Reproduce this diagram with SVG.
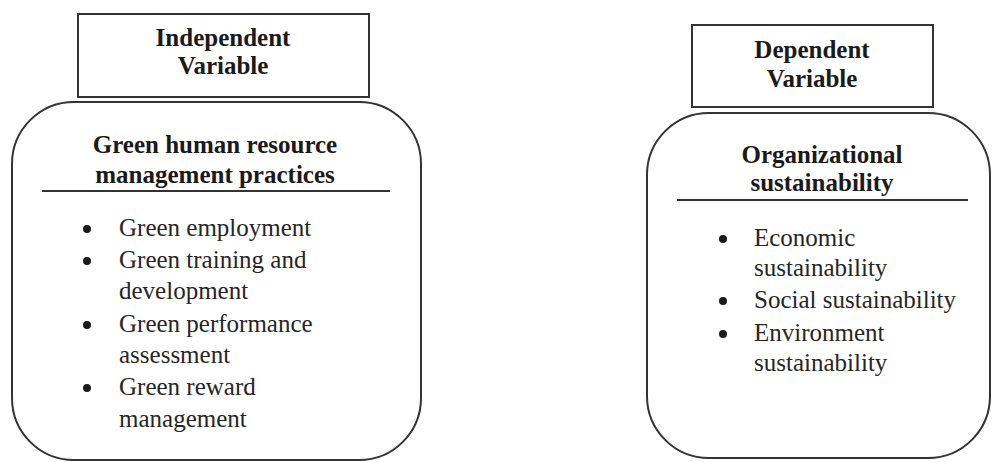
<svg xmlns="http://www.w3.org/2000/svg" width="992" height="462" viewBox="0 0 992 462">
  <style>
    .box { fill: #fff; stroke: #333; stroke-width: 2; }
    .rule { stroke: #333; stroke-width: 2; }
    .head { font-family: 'Liberation Serif', 'DejaVu Serif', serif; font-size: 25px; font-weight: bold; fill: #1a1a1a; text-anchor: middle; }
    .item { font-family: 'Liberation Serif', 'DejaVu Serif', serif; font-size: 25px; fill: #262626; }
    .dot { fill: #1a1a1a; }
  </style>
  <rect width="992" height="462" fill="#fff"/>

  <!-- Independent variable label -->
  <g id="independent-label">
    <rect class="box" x="78" y="14" width="291" height="83"/>
    <text class="head" x="223" y="46">Independent</text>
    <text class="head" x="223" y="74">Variable</text>
  </g>

  <!-- Green HRM practices -->
  <g id="ghrm">
    <rect class="box" x="12" y="102" width="409" height="358" rx="62" ry="62"/>
    <text class="head" x="215" y="153">Green human resource</text>
    <text class="head" x="215" y="183">management practices</text>
    <line class="rule" x1="42" y1="191" x2="390" y2="191"/>
    <circle class="dot" cx="87" cy="229" r="4"/>
    <circle class="dot" cx="87" cy="261" r="4"/>
    <circle class="dot" cx="87" cy="325" r="4"/>
    <circle class="dot" cx="87" cy="388" r="4"/>
    <text class="item" x="119" y="236">Green employment</text>
    <text class="item" x="119" y="268">Green training and</text>
    <text class="item" x="119" y="299">development</text>
    <text class="item" x="119" y="332">Green performance</text>
    <text class="item" x="119" y="363">assessment</text>
    <text class="item" x="119" y="395">Green reward</text>
    <text class="item" x="119" y="427">management</text>
  </g>

  <!-- Dependent variable label -->
  <g id="dependent-label">
    <rect class="box" x="692" y="25" width="241" height="82"/>
    <text class="head" x="812" y="58">Dependent</text>
    <text class="head" x="812" y="87">Variable</text>
  </g>

  <!-- Organizational sustainability -->
  <g id="org-sustainability">
    <rect class="box" x="647" y="113" width="343" height="345" rx="62" ry="62"/>
    <text class="head" x="822" y="163">Organizational</text>
    <text class="head" x="822" y="191">sustainability</text>
    <line class="rule" x1="677" y1="200" x2="968" y2="200"/>
    <circle class="dot" cx="723" cy="239" r="4"/>
    <circle class="dot" cx="723" cy="301" r="4"/>
    <circle class="dot" cx="723" cy="334" r="4"/>
    <text class="item" x="754" y="246">Economic</text>
    <text class="item" x="754" y="276">sustainability</text>
    <text class="item" x="754" y="308">Social sustainability</text>
    <text class="item" x="754" y="341">Environment</text>
    <text class="item" x="754" y="371">sustainability</text>
  </g>

  <g id="connectors"></g>
</svg>
